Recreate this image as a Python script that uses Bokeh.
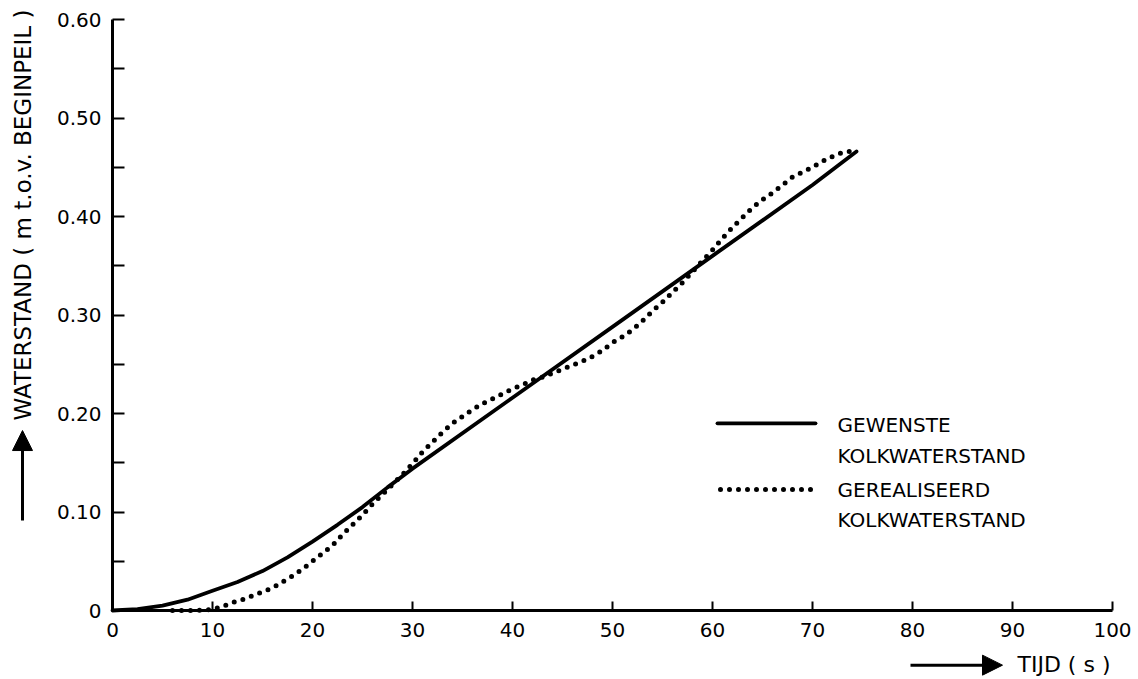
import math
from bokeh.plotting import figure
from bokeh.models import Range1d, FixedTicker, Label, Arrow, NormalHead
from bokeh.core.properties import value
from bokeh.embed import file_html
from bokeh.resources import INLINE

# ---- data ----
x_ticks = [0, 10, 20, 30, 40, 50, 60, 70, 80, 90, 100]
y_ticks = [0, 0.1, 0.2, 0.3, 0.4, 0.5, 0.6]
y_tick_labels = ["0", "0.10", "0.20", "0.30", "0.40", "0.50", "0.60"]
y_minor = [0.05, 0.15, 0.25, 0.35, 0.45, 0.55]

# desired level (GEWENSTE KOLKWATERSTAND)
gewenst_t = [0, 2.5, 5, 7.5, 10, 12.5, 15, 17.5, 20, 22.5, 25, 27.5, 30,
             40, 50, 60, 70, 74.4]
gewenst_h = [0, 0.0015, 0.005, 0.011, 0.02, 0.029, 0.04, 0.054, 0.07, 0.087,
             0.105, 0.125, 0.144, 0.216, 0.288, 0.36, 0.432, 0.466]

# realised level (GEREALISEERD KOLKWATERSTAND)
gerealiseerd_t = [6, 8, 10, 11, 12, 13, 14, 15, 16, 17, 18, 19, 20, 21, 22,
                  23, 24, 25, 26, 27, 28, 29, 30, 31, 32, 33, 34, 35, 36, 37,
                  38, 39, 40, 41, 42, 43, 44, 45, 46, 47, 48, 49, 50, 51, 52,
                  53, 54, 55, 56, 57, 58, 59, 60, 61, 62, 63, 64, 65, 66, 67,
                  68, 69, 70, 71, 72, 73, 74.4]
gerealiseerd_h = [0, 0, 0.001, 0.004, 0.008, 0.011, 0.015, 0.019, 0.023, 0.029,
                  0.035, 0.042, 0.050, 0.058, 0.066, 0.077, 0.087, 0.097, 0.108,
                  0.118, 0.128, 0.138, 0.149, 0.161, 0.171, 0.181, 0.190, 0.197,
                  0.204, 0.210, 0.215, 0.220, 0.225, 0.229, 0.234, 0.237, 0.241,
                  0.245, 0.249, 0.253, 0.258, 0.264, 0.272, 0.278, 0.285, 0.294,
                  0.304, 0.313, 0.323, 0.333, 0.344, 0.355, 0.366, 0.378, 0.389,
                  0.399, 0.409, 0.417, 0.424, 0.432, 0.440, 0.445, 0.450, 0.456,
                  0.461, 0.465, 0.467]

FONT = "DejaVu Sans"

# frame covers the whole canvas; axes are pinned at t=0 / h=0
p = figure(width=1138, height=679, output_backend="svg", toolbar_location=None,
           x_range=Range1d(-11.2, 102.6), y_range=Range1d(-0.07005, 0.6193),
           min_border=0, min_border_left=0, min_border_right=0,
           min_border_top=0, min_border_bottom=0)
p.outline_line_color = None
p.grid.visible = False
p.background_fill_color = "white"
p.border_fill_color = "white"

for ax in (p.xaxis[0], p.yaxis[0]):
    ax.fixed_location = 0
    ax.axis_line_width = 3
    ax.axis_line_color = "black"
    ax.major_tick_line_width = 2
    ax.major_tick_line_color = "black"
    ax.major_tick_out = 0
    ax.minor_tick_out = 0
    ax.major_label_text_font = FONT
    ax.major_label_text_font_size = "20px"
    ax.major_label_text_color = "black"

p.xaxis.bounds = (0, 100)
p.xaxis.ticker = FixedTicker(ticks=x_ticks, minor_ticks=[])
p.xaxis.major_tick_in = 9
p.xaxis.major_label_standoff = 12

p.yaxis.bounds = (0, 0.6)
p.yaxis.ticker = FixedTicker(ticks=y_ticks, minor_ticks=y_minor)
p.yaxis.major_tick_in = 12
p.yaxis.minor_tick_in = 12
p.yaxis.minor_tick_line_width = 2
p.yaxis.minor_tick_line_color = "black"
p.yaxis.major_label_standoff = 11
p.yaxis.major_label_overrides = {t: l for t, l in zip(y_ticks, y_tick_labels)}

# curves
p.line(gewenst_t, gewenst_h, line_color="black", line_width=3.8,
       line_join="round", line_cap="round")
p.line(gerealiseerd_t, gerealiseerd_h, line_color="black", line_width=5,
       line_dash="0 9", line_cap="round")

# legend (drawn manually)
p.line([60.5, 70.3], [0.19, 0.19], line_color="black", line_width=3.8,
       line_cap="round")
p.line([60.8, 70.3], [0.1228, 0.1228], line_color="black", line_width=5,
       line_dash="0 9", line_cap="round")
leg_txt = ["GEWENSTE", "KOLKWATERSTAND", "GEREALISEERD", "KOLKWATERSTAND"]
leg_y = [0.188, 0.157, 0.122, 0.0914]
p.text(x=[72.5] * 4, y=leg_y, text=leg_txt, text_font=value(FONT),
       text_font_size="20px", text_align="left", text_baseline="middle",
       text_color="black")

# axis titles with arrows
p.add_layout(Label(x=-9.0, y=0.4015, text="WATERSTAND ( m t.o.v. BEGINPEIL )",
                   angle=math.pi / 2, text_align="center", text_baseline="middle",
                   text_font=FONT, text_font_size="23px", text_color="black"))
p.add_layout(Arrow(x_start=-9.0, y_start=0.0914, x_end=-9.0, y_end=0.1827,
                   line_width=3, line_color="black",
                   end=NormalHead(size=20, fill_color="black", line_color="black")))
p.add_layout(Label(x=90.5, y=-0.0548, text="TIJD ( s )", text_align="left",
                   text_baseline="middle", text_font=FONT, text_font_size="22px",
                   text_color="black"))
p.add_layout(Arrow(x_start=79.8, y_start=-0.0555, x_end=89.0, y_end=-0.0555,
                   line_width=3, line_color="black",
                   end=NormalHead(size=20, fill_color="black", line_color="black")))

open("out.html", "w").write(file_html(p, INLINE))
